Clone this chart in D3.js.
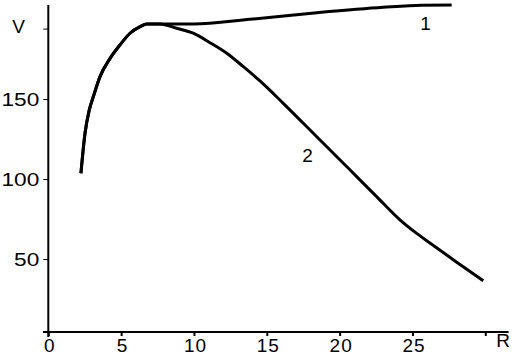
<!DOCTYPE html>
<html><head><meta charset="utf-8">
<script src="https://cdn.jsdelivr.net/npm/d3@7"></script>
<style>
html,body{margin:0;padding:0;background:#fff;}
svg{display:block;}
text{font-family:"Liberation Sans",Arial,sans-serif;fill:#000;}
</style></head>
<body>
<svg id="c" width="518" height="359"></svg>
<script>
// shared rising part
const riseR = [2.24, 2.52, 2.81, 3.09, 3.55, 4.24, 4.92, 5.61, 6.30, 6.75, 7.67];
const riseV = [103.6, 128.6, 143.1, 151.4, 164.0, 175.4, 183.8, 191.1, 195.2, 196.9, 196.9];
// curve 1 tail
const c1R = [9.95, 13.85, 18.43, 23.0, 25.63, 27.69];
const c1V = [196.9, 199.8, 203.9, 207.3, 208.6, 208.75];
// curve 2 tail
const c2R = [8.81, 9.95, 11.1, 12.25, 13.39, 14.53, 16.13, 18.43, 20.03, 21.17, 22.54, 24.14, 25.29, 26.43, 28.04, 29.86];
const c2V = [194.2, 191.1, 185.2, 178.6, 170.2, 161.3, 147.3, 126.4, 111.9, 101.5, 89.0, 74.5, 66.0, 58.5, 48.0, 36.4];
const xTicks = [0, 5, 10, 15, 20, 25, 30];
const xTickLabels = ["0", "5", "10", "15", "20", "25", ""];
const yTicks = [50, 100, 150, 194];
const yTickLabels = ["50", "100", "150", ""];
const curveLabels = ["1", "2"];

const svg = d3.select("#c");
const x = d3.scaleLinear().domain([0, 30]).range([48.3, 485.3]);
const y = d3.scaleLinear().domain([0, 200]).range([339, 19]);

const pts = (R, V) => R.map((r, i) => [r, V[i]]);
const rise = pts(riseR, riseV);
const s1 = rise.concat(pts(c1R, c1V));
const s2 = rise.concat(pts(c2R, c2V));

const line = d3.line().x(d => x(d[0])).y(d => y(d[1])).curve(d3.curveMonotoneX);

// axes
const gx = svg.append("g").attr("transform", "translate(0,332)");
gx.call(d3.axisBottom(x).tickValues(xTicks).tickSize(4).tickSizeOuter(0)
  .tickFormat((d, i) => xTickLabels[i]));
gx.select(".domain").remove();
gx.selectAll(".tick line").attr("stroke", "#000").attr("stroke-width", 2);
gx.selectAll(".tick text").attr("font-size", 19).attr("dy", "0.95em").attr("y", 2)
  .attr("dx", 1).style("letter-spacing", "1px");
gx.append("line").attr("x1", x(-0.37)).attr("x2", x(31.6)).attr("y1", 0).attr("y2", 0)
  .attr("stroke", "#000").attr("stroke-width", 2);

const gy = svg.append("g").attr("transform", "translate(48.3,0)");
gy.call(d3.axisLeft(y).tickValues(yTicks).tickSize(5).tickSizeOuter(0)
  .tickFormat((d, i) => yTickLabels[i]));
gy.select(".domain").remove();
gy.selectAll(".tick line").attr("stroke", "#000").attr("stroke-width", 1);
gy.selectAll(".tick text").attr("font-size", 19).attr("x", -9)
  .each(function () {
    const n = this.textContent.length;
    if (n) d3.select(this).attr("textLength", n * 12.6).attr("lengthAdjust", "spacingAndGlyphs");
  });
gy.append("line").attr("x1", 0).attr("x2", 0).attr("y1", 5).attr("y2", 337)
  .attr("stroke", "#000").attr("stroke-width", 2);

// axis titles
svg.append("text").attr("x", 18.5).attr("y", 33).attr("text-anchor", "middle")
  .attr("font-size", 19).text("V");
svg.append("text").attr("x", 503).attr("y", 347).attr("text-anchor", "middle")
  .attr("font-size", 19).text("R");

// curves
svg.append("path").attr("d", line(s1)).attr("fill", "none").attr("stroke", "#000")
  .attr("stroke-width", 3).attr("stroke-linejoin", "round");
svg.append("path").attr("d", line(s2)).attr("fill", "none").attr("stroke", "#000")
  .attr("stroke-width", 3).attr("stroke-linejoin", "round");

// curve labels
svg.append("text").attr("x", x(25.9)).attr("y", 30).attr("text-anchor", "middle")
  .attr("font-size", 19).text(curveLabels[0]);
svg.append("text").attr("x", x(17.8)).attr("y", 162).attr("text-anchor", "middle")
  .attr("font-size", 19).text(curveLabels[1]);
</script>
</body></html>
